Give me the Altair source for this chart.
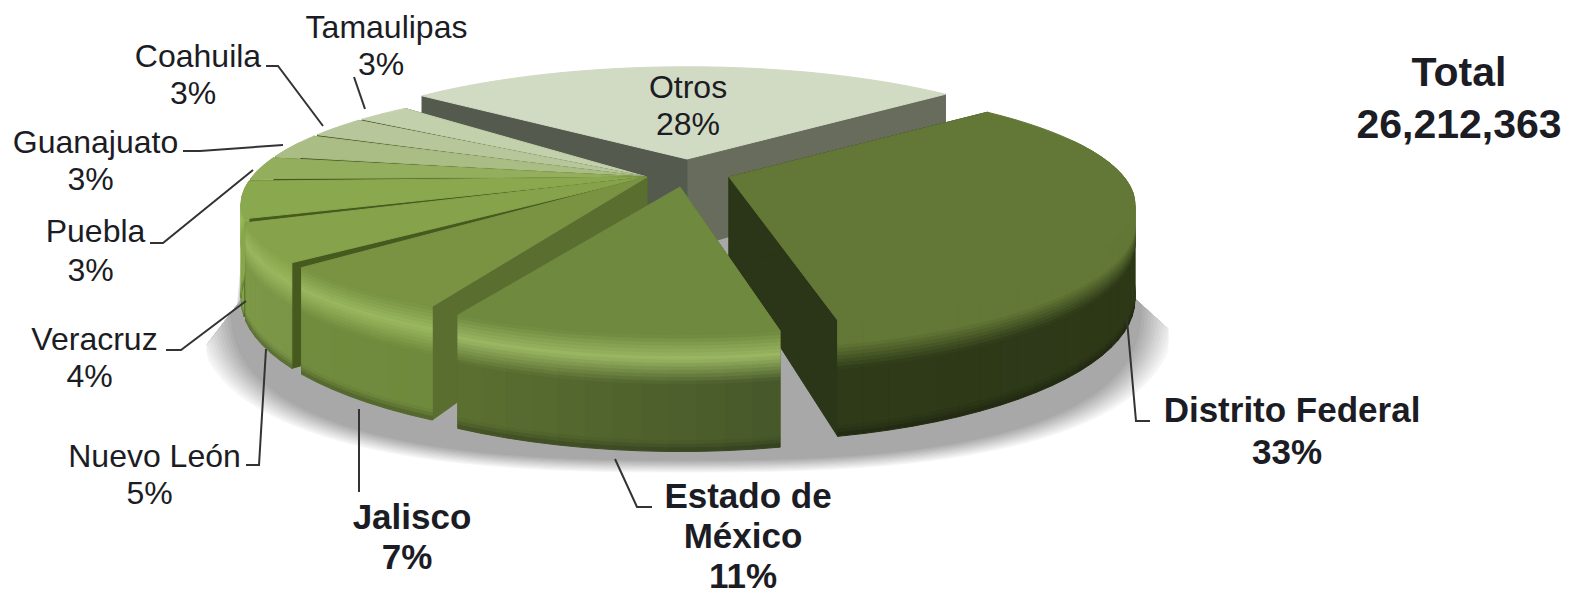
import math
import altair as alt
import pandas as pd

# ---- values (drawn angle shares, in percent)
names = ["Distrito Federal", "Estado de México", "Jalisco", "Nuevo León", "Veracruz",
         "Puebla", "Guanajuato", "Coahuila", "Tamaulipas", "Otros"]
shares = [33.0, 10.5, 6.8, 5.6, 5.3, 3.3, 3.6, 3.1, 2.6, 26.2]
pct_labels = ["33%", "11%", "7%", "5%", "4%", "3%", "3%", "3%", "3%", "28%"]
total_lines = ["Total", "26,212,363"]

# ---- colours per slice
top_col = ["#637836", "#6f8a3f", "#799343", "#86a34b", "#8aa84e", "#93ae5d", "#aabd85", "#b7c79b", "#c3d0ac", "#d1dac3"]
high_col = ["#637836", "#9bb763", "#9ab85f", "#9ab85f", "#9bbd5a", "#9bbd5a", "#aabd85", "#b7c79b", "#c3d0ac", "#d1dac3"]
wall_a = ["#2b3516", "#46582a", "#6f8a3c", "#7a9545", "#86a54a", "#8fae50", "#aabd85", "#b7c79b", "#c3d0ac", "#676c5d"]
wall_b = ["#2e3a18", "#5c7031", "#728c3e", "#7d9847", "#88a84c", "#8fae50", "#aabd85", "#b7c79b", "#c3d0ac", "#555a4e"]
face_a = ["#2b3517", "#55682d", "#5a6e30", "#465a20", "#465a20", "#465a20", "#4a5a28", "#4f5c30", "#4f5c30", "#555a4e"]
face_b = ["#2b3517", "#55682d", "#5a6e30", "#465a20", "#465a20", "#465a20", "#4a5a28", "#4f5c30", "#4f5c30", "#676c5d"]

# ---- projection / layout settings
START = 41.1
A, B, K, H = 395.0, 113.5, 0.2307, 90.0
apex = [(729, 177), (680, 187)] + [(647, 177)] * 7 + [(687, 159)]
rot = [0, -1] + [0] * 7 + [4.9]
gap = [0, 0, 2.4, 1.8, 1.3, 1.1, 1.0, 0.9, 0, -4.9]
paint = [9, 8, 7, 6, 5, 4, 3, 2, 0, 1]

rows = []
pid = [0]


def poly(pts, colour):
    p = pid[0]
    pid[0] += 1
    for i, (x, y) in enumerate(list(pts) + [pts[0]]):
        rows.append({"p": p, "i": i, "x": round(x, 2), "y": round(y, 2), "c": colour})


def rgb(h):
    return [int(h[j:j + 2], 16) for j in (1, 3, 5)]


def mix(a, b, t):
    ca, cb = rgb(a), rgb(b)
    return "#%02x%02x%02x" % tuple(round(u + (v - u) * t) for u, v in zip(ca, cb))


def pt(ap, deg, z):
    s, c = math.sin(math.radians(deg)), math.cos(math.radians(deg))
    w = 1 + K * s
    return ap[0] + A * c / w, ap[1] - B * s / w + H * z / w


# ---- soft floor shadow
def clamp(x, y):
    x = min(max(x, 207), 1168)
    lim = 200
    if x < 245:
        lim = 295 + (245 - x) * 1.3
    if x > 1125:
        lim = 290 + (x - 1125) * 0.9
    return x, max(y, lim)


def soft(v, n=2.6):
    return math.copysign(abs(v) ** (2 / n), v)


steps = 12
for n in range(steps):
    f = n / (steps - 1)
    s = 1 - 0.07 * f
    outline = [clamp(686 + 490 * s * soft(math.cos(math.radians(d))),
                     300 + 172 * s * soft(math.sin(math.radians(d))))
               for d in range(0, 360, 3)]
    poly(outline, mix("#f6f6f6", "#a8a8a8", f))

# ---- slices
edges = [START]
for v in shares:
    edges.append(edges[-1] - v * 3.6)

profile = [0, .03, .06, .09, .12, .15, .18, .21, .24, .27, .30, .33, .36, .39, .42, .9, .93, .96, 1.0]

for j in paint:
    t0 = edges[j] + rot[j]
    t1 = edges[j + 1] + rot[j] + gap[j]
    ap = apex[j]
    # cut faces
    poly([pt(ap, t1, 0), ap, (ap[0], ap[1] + H), pt(ap, t1, 1)], face_b[j])
    poly([ap, pt(ap, t0, 0), pt(ap, t0, 1), (ap[0], ap[1] + H)], face_a[j])
    # outer wall, in bands
    nseg = max(2, int(abs(t0 - t1) / 3))
    for q in range(nseg):
        a0 = t0 + (t1 - t0) * q / nseg
        a1 = t0 + (t1 - t0) * (q + 1) / nseg
        if math.sin(math.radians(a0)) > .3 and math.sin(math.radians(a1)) > .3:
            continue
        wall = mix(wall_a[j], wall_b[j], (q + .5) / nseg)
        dark = mix(wall, "#000000", .3)
        for r in range(len(profile) - 2, -1, -1):
            z0, z1 = profile[r], profile[r + 1]
            zm = (z0 + z1) / 2
            if zm < .2:
                col = mix(top_col[j], high_col[j], zm / .2)
            elif zm < .42:
                col = mix(high_col[j], wall, (zm - .2) / .22)
            elif zm < .9:
                col = wall
            else:
                col = mix(wall, dark, (zm - .9) / .1)
            poly([pt(ap, a0, z0), pt(ap, a1, z0), pt(ap, a1, z1), pt(ap, a0, z1)], col)
    # top surface
    arc = [pt(ap, t0 + (t1 - t0) * q / 40, 0) for q in range(41)]
    poly([ap] + arc, top_col[j])

shapes = pd.DataFrame(rows)

# ---- leader lines (page pixels)
leaders = [
    [(354, 77), (365, 109)],
    [(266, 66), (278, 66), (323, 126)],
    [(183, 151), (200, 151), (283, 145)],
    [(150, 243), (163, 243), (253, 170)],
    [(166, 350), (181, 350), (246, 301)],
    [(246, 465), (259, 465), (266, 349)],
    [(359, 409), (359, 492)],
    [(615, 459), (637, 507), (652, 507)],
    [(1127, 320), (1136, 421), (1150, 421)],
]
lead_rows = [{"l": n, "i": i, "x": x, "y": y} for n, seg in enumerate(leaders) for i, (x, y) in enumerate(seg)]

# ---- text
plain = [
    ("Tamaulipas", 386.5, 28), (pct_labels[8], 381, 65),
    ("Coahuila", 198, 57), (pct_labels[7], 193, 94),
    ("Guanajuato", 95.5, 143), (pct_labels[6], 90.5, 180),
    ("Puebla", 95.5, 232), (pct_labels[5], 90.5, 271),
    ("Veracruz", 94.5, 340), (pct_labels[4], 89.5, 377),
    ("Nuevo León", 154.5, 457), (pct_labels[3], 149.5, 494),
    (names[9], 688, 88), (pct_labels[9], 688, 125),
]
bold = [
    ("Jalisco", 412, 518), (pct_labels[2], 407, 558),
    ("Estado de", 748, 497), ("México", 743, 537), (pct_labels[1], 743, 577),
    (names[0], 1292, 411), (pct_labels[0], 1287, 453),
]
big = [(total_lines[0], 1459, 74), (total_lines[1], 1459, 126)]


def tdf(items):
    return pd.DataFrame([{"t": t, "x": x, "y": y} for t, x, y in items])


xs = alt.Scale(domain=[8, 1566], range=[0, 1558], nice=False, zero=False)
ys = alt.Scale(domain=[8, 593], range=[0, 585], nice=False, zero=False)
X = alt.X("x:Q", scale=xs, axis=None)
Y = alt.Y("y:Q", scale=ys, axis=None)
FONT = "Liberation Sans"

shape_layer = alt.Chart(shapes).mark_line(strokeWidth=1, strokeJoin="round").encode(
    x=X, y=Y,
    detail="p:O",
    order="i:Q",
    fill=alt.Fill("c:N", scale=None),
    stroke=alt.Stroke("c:N", scale=None),
)
lead_layer = alt.Chart(pd.DataFrame(lead_rows)).mark_line(color="#333333", strokeWidth=2).encode(
    x=X, y=Y, detail="l:O", order="i:Q")


def text_layer(items, size, weight):
    return alt.Chart(tdf(items)).mark_text(font=FONT, fontSize=size, fontWeight=weight, color="#1c1c24",
                                           baseline="middle", align="center").encode(x=X, y=Y, text="t:N")


chart = alt.layer(
    shape_layer,
    lead_layer,
    text_layer(plain, 32, "normal"),
    text_layer(bold, 35, "bold"),
    text_layer(big, 41, "bold"),
).properties(width=1558, height=585, padding=0, background="white").configure_view(stroke=None)

chart.save("out.html", embed_options={"renderer": "svg", "actions": False})
